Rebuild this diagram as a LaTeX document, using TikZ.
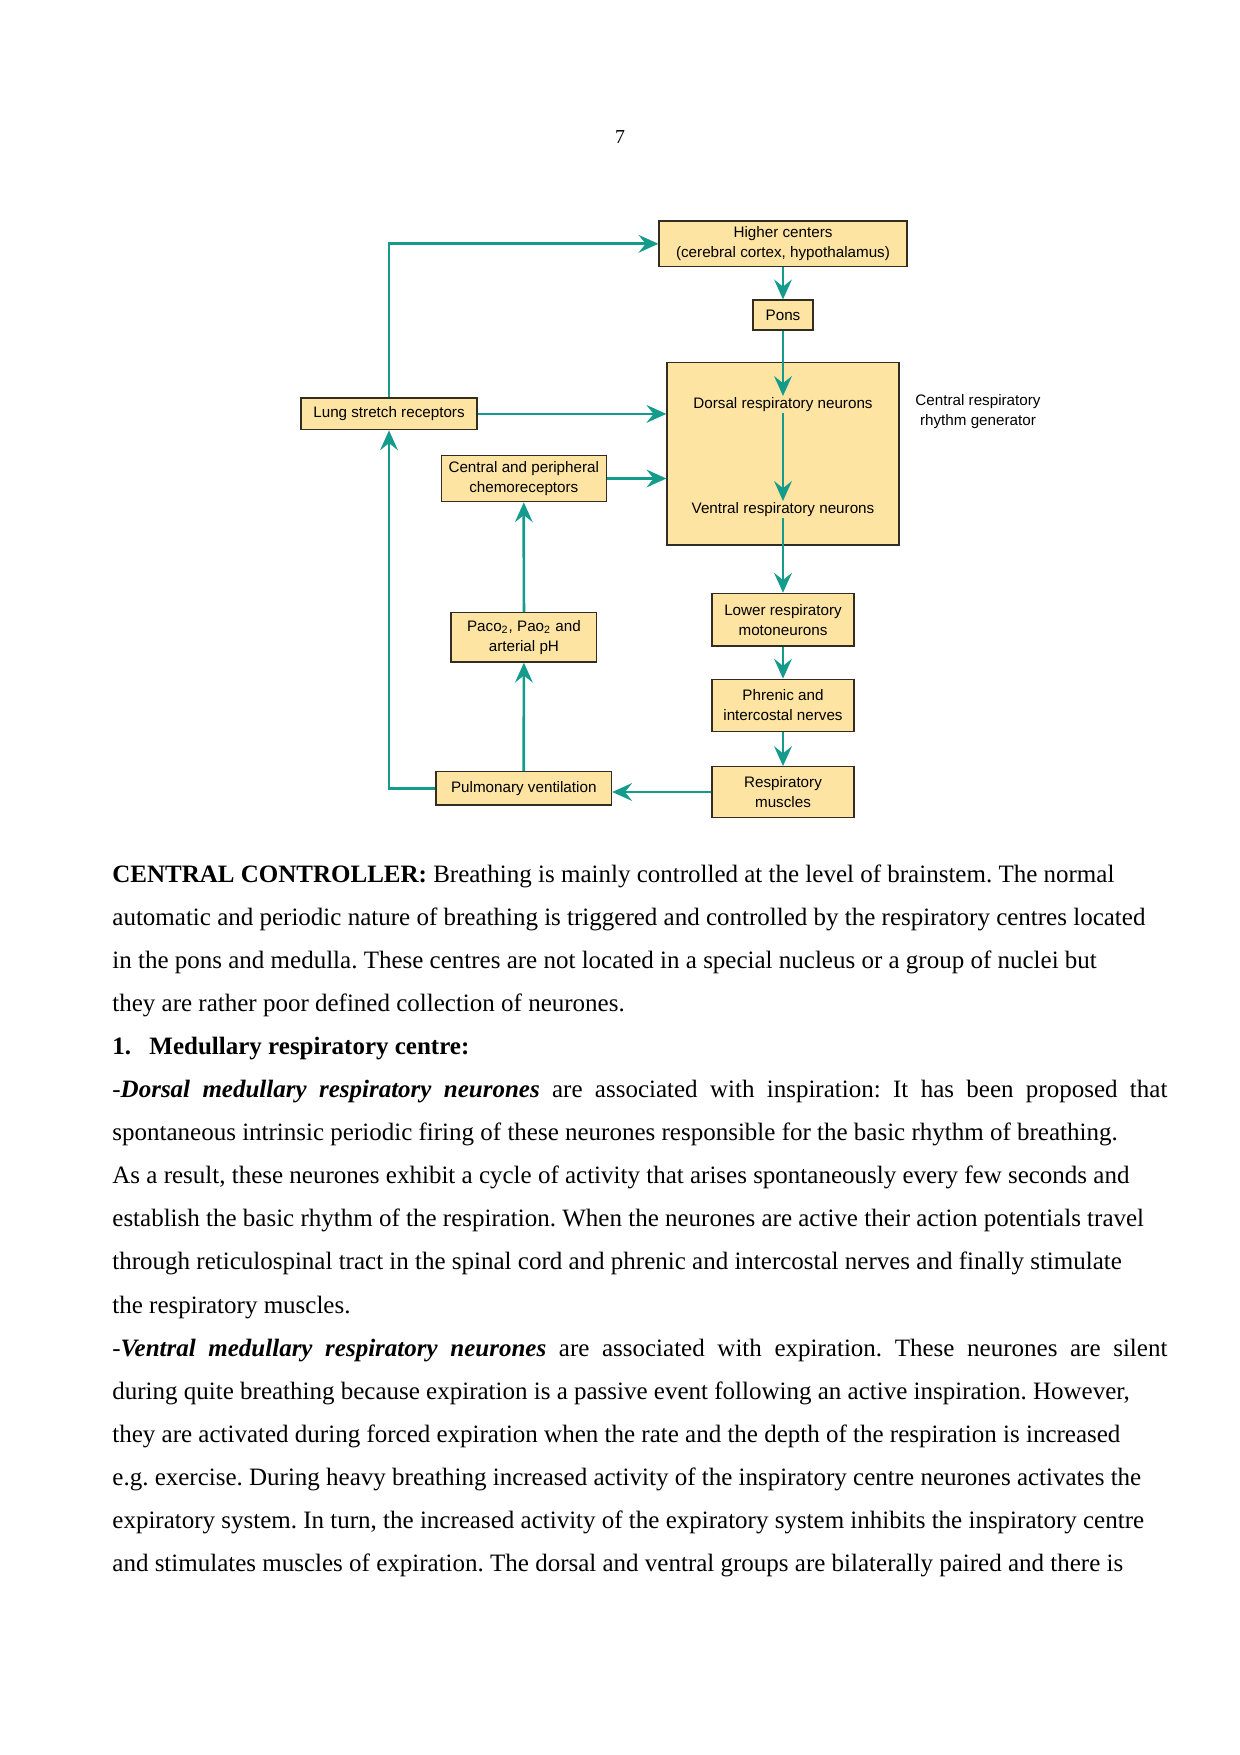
\documentclass[tikz,border=0pt]{standalone}
\usepackage{fontspec}
\setmainfont{Liberation Serif}
\newfontfamily\diagfont{Liberation Sans}
\usetikzlibrary{arrows.meta}
\definecolor{tealline}{RGB}{20,155,140}
\definecolor{boxfill}{RGB}{253,228,162}
\definecolor{boxline}{RGB}{50,45,35}
\frenchspacing
\begin{document}
\begin{tikzpicture}[x=0.48pt,y=-0.48pt,
  box/.style={draw=boxline, line width=0.6pt, fill=boxfill, inner sep=0pt, align=center,
    font=\diagfont\fontsize{7.3}{9.6}\selectfont},
  lbl/.style={inner sep=0pt, align=center, font=\diagfont\fontsize{7.3}{9.6}\selectfont},
  conn/.style={draw=tealline, line width=1.3pt, -{Stealth[length=9.5pt,width=8.5pt,inset=3.4pt]}},
  body/.style={anchor=base west, inner sep=0pt, font=\fontsize{12}{20.7}\selectfont\frenchspacing}
]
\fill[white] (0,0) rectangle (1240,1755);
\useasboundingbox (0,0) rectangle (1240,1755);

% page number
\node[anchor=base, inner sep=0pt, font=\fontsize{9.5}{11}\selectfont] (pg) at (620,143) {7};

% diagram boxes
\node[box, minimum width=119pt, minimum height=21.8pt] (higher) at (783,243.8) {Higher centers\\(cerebral cortex, hypothalamus)};
\node[box, minimum width=28.8pt, minimum height=14.4pt] (pons) at (783,315) {Pons};
\node[box, minimum width=111.4pt, minimum height=87.5pt] (big) at (783,453.9) {};
\node[lbl, anchor=base, text height=4.6pt, text depth=1.4pt, inner ysep=1pt] (dorsal) at (783,408) {Dorsal respiratory neurons};
\node[lbl, anchor=base, text height=4.6pt, text depth=1.4pt, inner ysep=1pt] (ventral) at (783,513) {Ventral respiratory neurons};
\node[lbl] (crg) at (978,412) {Central respiratory\\rhythm generator};
\node[box, minimum width=84.5pt, minimum height=15.2pt] (lung) at (389,413.9) {Lung stretch receptors};
\node[box, minimum width=79.2pt, minimum height=22.3pt] (chemo) at (523.8,478.5) {Central and peripheral\\chemoreceptors};
\node[box, minimum width=68.2pt, minimum height=25.3pt] (lower) at (783,619.7) {Lower respiratory\\motoneurons};
\node[box, minimum width=68.2pt, minimum height=25.2pt] (phrenic) at (783,705.5) {Phrenic and\\intercostal nerves};
\node[box, minimum width=68.2pt, minimum height=24.3pt] (muscles) at (783,792) {Respiratory\\muscles};
\node[box, minimum width=70pt, minimum height=23.7pt] (paco2) at (523.9,637.4) {Paco\textsubscript{2}, Pao\textsubscript{2} and\\arterial pH};
\node[box, minimum width=84.3pt, minimum height=16pt] (pulm) at (523.8,788.4) {Pulmonary ventilation};

% connectors
\draw[conn] (higher.south) -- (pons.north);
\draw[conn] (pons.south) -- (dorsal.north);
\draw[conn] (dorsal.south) -- (ventral.north);
\draw[conn] (ventral.south) -- (lower.north);
\draw[conn] (lower.south) -- (phrenic.north);
\draw[conn] (phrenic.south) -- (muscles.north);
\draw[conn] (muscles.west) -- (muscles.west -| pulm.east);
\draw[conn] (pulm.north) -- (paco2.south);
\draw[conn] (paco2.north) -- (chemo.south);
\draw[conn] (chemo.east) -- (chemo.east -| big.west);
\draw[conn] (lung.east) -- (lung.east -| big.west);
\draw[conn] (pulm.west) -| (lung.south);
\draw[conn] (lung.north) |- (higher.west);

% body text
\node[body] (t0) at (112,882) {\textbf{CENTRAL CONTROLLER:} Breathing is mainly controlled at the level of brainstem. The normal};
\node[body] (t1) at (112,925.1) {automatic and periodic nature of breathing is triggered and controlled by the respiratory centres located};
\node[body] (t2) at (112,968.2) {in the pons and medulla. These centres are not located in a special nucleus or a group of nuclei but};
\node[body] (t3) at (112,1011.3) {they are rather poor defined collection of neurones.};
\node[body] (t4) at (112,1054.4) {\makebox[17.8pt][l]{\textbf{1.}}\textbf{Medullary respiratory centre:}};
\node[body] (t5) at (112,1097.5) {\makebox[506.4pt][s]{-\textbf{\textit{Dorsal medullary respiratory neurones}} are associated with inspiration: It has been proposed that}};
\node[body] (t6) at (112,1140.6) {spontaneous intrinsic periodic firing of these neurones responsible for the basic rhythm of breathing.};
\node[body] (t7) at (112,1183.7) {As a result, these neurones exhibit a cycle of activity that arises spontaneously every few seconds and};
\node[body] (t8) at (112,1226.8) {establish the basic rhythm of the respiration. When the neurones are active their action potentials travel};
\node[body] (t9) at (112,1269.9) {through reticulospinal tract in the spinal cord and phrenic and intercostal nerves and finally stimulate};
\node[body] (t10) at (112,1313) {the respiratory muscles.};
\node[body] (t11) at (112,1356.1) {\makebox[506.4pt][s]{-\textbf{\textit{Ventral medullary respiratory neurones}} are associated with expiration. These neurones are silent}};
\node[body] (t12) at (112,1399.2) {during quite breathing because expiration is a passive event following an active inspiration. However,};
\node[body] (t13) at (112,1442.3) {they are activated during forced expiration when the rate and the depth of the respiration is increased};
\node[body] (t14) at (112,1485.4) {e.g. exercise. During heavy breathing increased activity of the inspiratory centre neurones activates the};
\node[body] (t15) at (112,1528.5) {expiratory system. In turn, the increased activity of the expiratory system inhibits the inspiratory centre};
\node[body] (t16) at (112,1571.6) {and stimulates muscles of expiration. The dorsal and ventral groups are bilaterally paired and there is};
\end{tikzpicture}
\end{document}
